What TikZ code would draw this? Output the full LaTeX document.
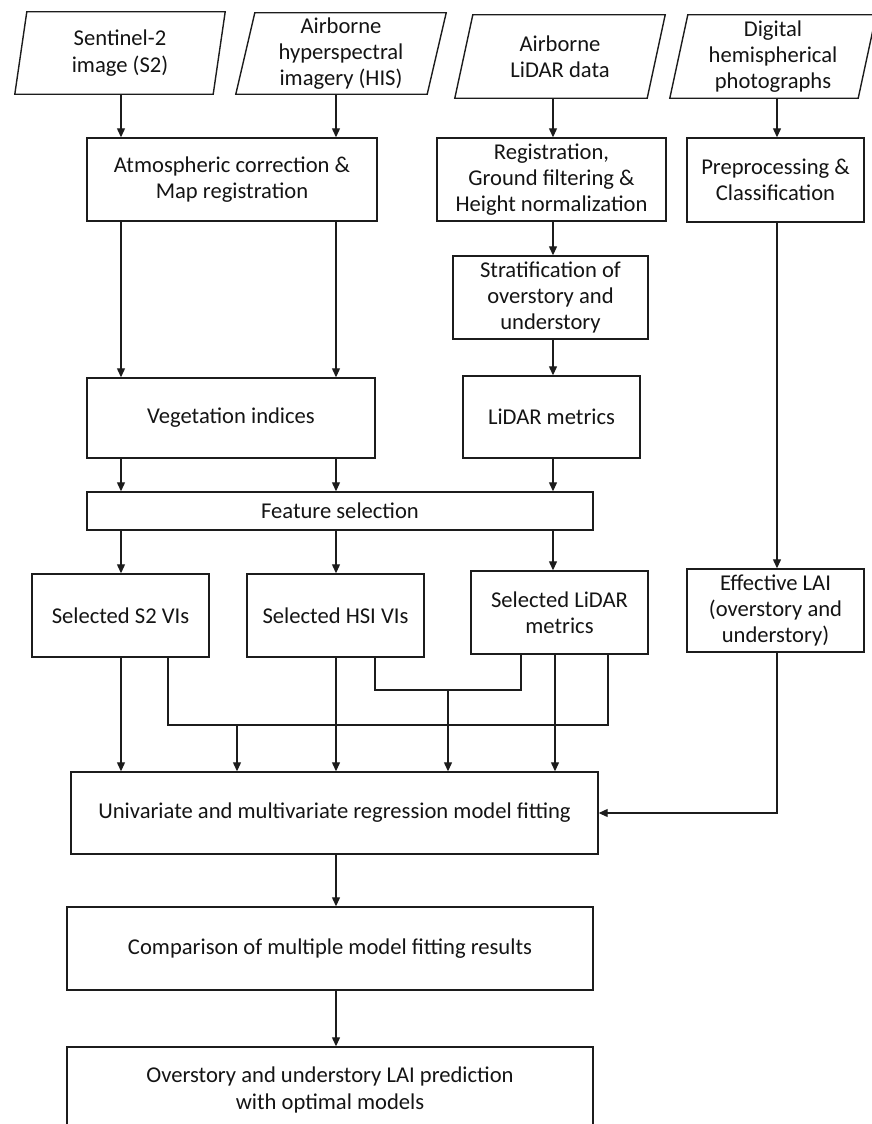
\documentclass[tikz,border=0pt]{standalone}
\usepackage{fontspec}
\setmainfont{Carlito}
\usetikzlibrary{arrows.meta}
\definecolor{linec}{RGB}{28,28,28}
\definecolor{textc}{RGB}{20,20,20}
\begin{document}
\begin{tikzpicture}[x=1pt,y=-1pt,
  txt/.style={font=\fontsize{22.6}{26.3}\selectfont, align=center, inner sep=0pt, text=textc},
  box/.style={txt, draw=linec, line width=1.4pt},
  plg/.style={txt},
  shp/.style={draw=linec, line width=1.4pt, line join=miter},
  ln/.style={draw=linec, line width=1.2pt},
  arr/.style={ln, -{Triangle[length=9pt,width=8pt]}}]
\useasboundingbox (0,0) rectangle (872,1124);

% column coordinates
\coordinate (cA) at (121,0);
\coordinate (cB) at (336,0);
\coordinate (cC) at (553,0);
\coordinate (cD) at (777,0);
\coordinate (cE) at (555,0);
\coordinate (k1) at (168,0);
\coordinate (k2) at (237,0);
\coordinate (k3) at (608,0);
\coordinate (k4) at (375,0);
\coordinate (k5) at (448,0);
\coordinate (k6) at (521,0);
\coordinate (h1) at (0,725);
\coordinate (h2) at (0,690);

% input parallelograms
\node[plg, minimum width=198pt, minimum height=82pt] (p1) at (120,53) {Sentinel-2\\image (S2)};
\draw[shp] ([xshift=6pt]p1.north west) -- ([xshift=6pt]p1.north east) -- ([xshift=-6pt]p1.south east) -- ([xshift=-6pt]p1.south west) -- cycle;
\node[plg, minimum width=191pt, minimum height=81pt] (p2) at (341,53.5) {Airborne\\hyperspectral\\imagery (HIS)};
\draw[shp] ([xshift=9.5pt]p2.north west) -- ([xshift=9.5pt]p2.north east) -- ([xshift=-9.5pt]p2.south east) -- ([xshift=-9.5pt]p2.south west) -- cycle;
\node[plg, minimum width=192pt, minimum height=83pt] (p3) at (560,56.5) {Airborne\\LiDAR data};
\draw[shp] ([xshift=9pt]p3.north west) -- ([xshift=9pt]p3.north east) -- ([xshift=-9pt]p3.south east) -- ([xshift=-9pt]p3.south west) -- cycle;
\node[plg, minimum width=188pt, minimum height=83pt] (p4) at (773,56.5) {Digital\\hemispherical\\photographs};
\draw[shp] ([xshift=9pt]p4.north west) -- ([xshift=9pt]p4.north east) -- ([xshift=-9pt]p4.south east) -- ([xshift=-9pt]p4.south west) -- cycle;

% process boxes
\node[box, minimum width=290pt, minimum height=83pt] (atm) at (232,179.5) {Atmospheric correction \&\\Map registration};
\node[box, minimum width=229pt, minimum height=83pt] (reg) at (551.5,179.5) {Registration,\\Ground filtering \&\\Height normalization};
\node[box, minimum width=177pt, minimum height=84pt] (pre) at (775.5,180) {Preprocessing \&\\Classification};
\node[box, minimum width=195pt, minimum height=83pt] (strat) at (550.5,297.5) {Stratification of\\overstory and\\understory};
\node[box, minimum width=177pt, minimum height=82pt] (lmet) at (551.5,417) {LiDAR metrics};
\node[box, minimum width=288pt, minimum height=80pt] (veg) at (231,418) {Vegetation indices};
\node[box, minimum width=506pt, minimum height=38pt] (feat) at (340,511) {Feature selection};
\node[box, minimum width=177pt, minimum height=83pt] (ss2) at (120.5,615.5) {Selected S2 VIs};
\node[box, minimum width=177pt, minimum height=83pt] (shsi) at (335.5,615.5) {Selected HSI VIs};
\node[box, minimum width=177pt, minimum height=83pt] (slid) at (559.5,612.5) {Selected LiDAR\\metrics};
\node[box, minimum width=177pt, minimum height=83pt] (elai) at (775.5,610.5) {Effective LAI\\(overstory and\\understory)};
\node[box, minimum width=527pt, minimum height=82pt] (regr) at (334.5,813) {Univariate and multivariate regression model fitting};
\node[box, minimum width=526pt, minimum height=83pt] (comp) at (330,948.5) {Comparison of multiple model fitting results};
\node[box, minimum width=526pt, minimum height=86pt] (pred) at (330,1090) {Overstory and understory LAI prediction\\with optimal models};

% connectors
\draw[arr] (p1.south -| cA) -- (atm.north -| cA);
\draw[arr] (p2.south -| cB) -- (atm.north -| cB);
\draw[arr] (p3.south -| cC) -- (reg.north -| cC);
\draw[arr] (p4.south -| cD) -- (pre.north -| cD);
\draw[arr] (atm.south -| cA) -- (veg.north -| cA);
\draw[arr] (atm.south -| cB) -- (veg.north -| cB);
\draw[arr] (reg.south -| cC) -- (strat.north -| cC);
\draw[arr] (strat.south -| cC) -- (lmet.north -| cC);
\draw[arr] (lmet.south -| cC) -- (feat.north -| cC);
\draw[arr] (veg.south -| cA) -- (feat.north -| cA);
\draw[arr] (veg.south -| cB) -- (feat.north -| cB);
\draw[arr] (feat.south -| cA) -- (ss2.north -| cA);
\draw[arr] (feat.south -| cB) -- (shsi.north -| cB);
\draw[arr] (feat.south -| cC) -- (slid.north -| cC);
\draw[arr] (pre.south -| cD) -- (elai.north -| cD);
\draw[arr] (ss2.south -| cA) -- (regr.north -| cA);
\draw[arr] (shsi.south -| cB) -- (regr.north -| cB);
\draw[arr] (slid.south -| cE) -- (regr.north -| cE);
\draw[ln] (ss2.south -| k1) -- (k1 |- h1) -- (k3 |- h1) -- (slid.south -| k3);
\draw[arr] (k2 |- h1) -- (regr.north -| k2);
\draw[ln] (shsi.south -| k4) -- (k4 |- h2) -- (k6 |- h2) -- (slid.south -| k6);
\draw[arr] (k5 |- h2) -- (regr.north -| k5);
\draw[arr] (elai.south -| cD) |- (regr.east);
\draw[arr] (regr.south -| cB) -- (comp.north -| cB);
\draw[arr] (comp.south -| cB) -- (pred.north -| cB);
\end{tikzpicture}
\end{document}
